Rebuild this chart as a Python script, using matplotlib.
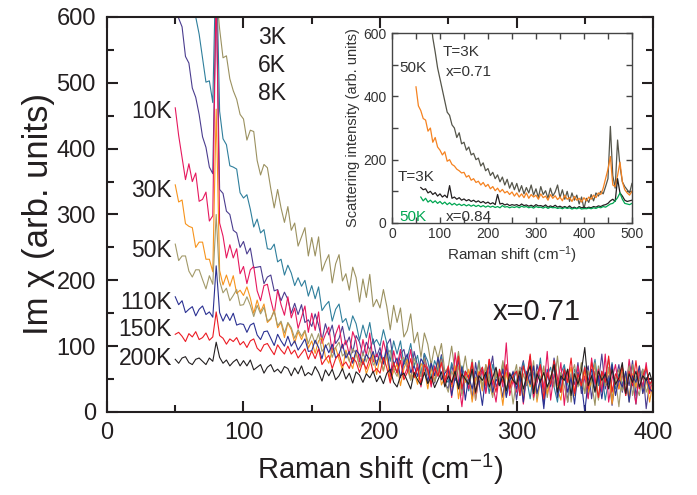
import numpy as np
import matplotlib
matplotlib.use("Agg")
import matplotlib.pyplot as plt
from matplotlib.ticker import MultipleLocator

plt.rcParams['font.family'] = ['Liberation Sans', 'DejaVu Sans']
plt.rcParams['mathtext.fontset'] = 'custom'
plt.rcParams['mathtext.rm'] = 'Liberation Sans'
plt.rcParams['mathtext.it'] = 'Liberation Sans:italic'

# main panel: Raman shift starts at 50 cm-1, one value every 2.5 cm-1
main_start = 50
main_step = 2.5

labels = ["3K", "6K", "8K", "10K", "30K", "50K", "110K", "150K", "200K"]
colors = ["#4b3d8f", "#2f7f9c", "#9b9160", "#e6185e", "#f7941d",
          "#a39a6a", "#2b3192", "#ec1c24", "#231f20"]

# one row = 50 cm-1
im_3K = [660, 598, 585, 540, 530, 492, 478, 452, 418, 402, 372, 362, 640, 338, 332, 305, 300, 276, 272, 250,
         259, 240, 249, 219, 220, 221, 195, 205, 208, 184, 186, 169, 182, 171, 150, 165, 148, 163, 136, 140,
         130, 149, 132, 109, 134, 117, 132, 104, 112, 130, 102, 114, 90, 116, 106, 86, 106, 94, 111, 84,
         98, 73, 102, 111, 73, 60, 88, 95, 70, 49, 92, 70, 54, 89, 58, 76, 44, 66, 87, 44,
         35, 72, 48, 80, 28, 62, 55, 20, 75, 42, 68, 30, 58, 85, 38, 50, 22, 70, 45, 62,
         18, 55, 78, 40, 60, 25, 72, 48, 12, 65, 38, 82, 50, 30, 68, 15, 58, 42, 75, 28,
         52, 70, 20, 62, 45, 88, 35, 55, 10, 48, 72, 30, 60, 40, 78, 25, 50, 65, 5, 45,
         38]
im_6K = [803, 756, 738, 709, 654, 613, 600, 574, 537, 501, 503, 470, 700, 457, 415, 406, 374, 372, 369, 333,
         325, 330, 308, 281, 293, 272, 277, 248, 247, 255, 228, 232, 208, 223, 211, 192, 204, 191, 200, 176,
         192, 172, 190, 154, 162, 168, 138, 156, 164, 136, 142, 124, 146, 134, 109, 132, 113, 136, 103, 110,
         100, 125, 104, 77, 108, 88, 108, 72, 82, 104, 70, 86, 56, 89, 77, 52, 78, 64, 84, 50,
         45, 75, 58, 40, 70, 52, 32, 66, 48, 78, 38, 60, 28, 72, 55, 42, 68, 25, 58, 48,
         62, 35, 75, 50, 20, 60, 45, 82, 30, 55, 68, 38, 15, 58, 72, 42, 28, 65, 50, 35,
         70, 22, 55, 80, 40, 62, 18, 48, 75, 35, 58, 45, 28, 72, 52, 12, 60, 38, 66, 42,
         50]
im_8K = [1000, 970, 950, 915, 880, 840, 800, 760, 720, 690, 650, 630, 640, 582, 538, 541, 506, 488, 475, 452,
         445, 413, 428, 426, 382, 360, 376, 371, 339, 310, 338, 310, 288, 312, 276, 287, 252, 266, 280, 237,
         265, 237, 266, 214, 228, 239, 196, 225, 239, 199, 210, 185, 220, 204, 167, 202, 174, 209, 160, 171,
         158, 186, 160, 125, 162, 136, 158, 114, 124, 149, 105, 121, 83, 120, 103, 71, 100, 81, 104, 61,
         68, 100, 60, 92, 55, 85, 48, 80, 42, 75, 35, 70, 55, 28, 66, 45, 78, 30, 60, 50,
         72, 25, 58, 40, 80, 18, 62, 48, 70, 22, 55, 38, 85, 30, 50, 65, 15, 58, 42, 75,
         28, 62, 45, 10, 70, 38, 55, 80, 20, 48, 65, 32, 58, 15, 72, 40, 25, 62, 48, 30,
         55]
im_10K = [462, 420, 387, 353, 377, 350, 363, 320, 323, 334, 290, 298, 650, 287, 267, 234, 254, 234, 248, 210,
          221, 195, 216, 221, 184, 169, 192, 194, 170, 149, 185, 163, 147, 175, 143, 158, 127, 144, 161, 121,
          150, 124, 152, 104, 118, 129, 90, 118, 132, 97, 109, 87, 122, 108, 76, 110, 86, 120, 76, 88,
          77, 108, 85, 53, 93, 70, 95, 54, 67, 95, 54, 73, 38, 79, 66, 38, 70, 54, 80, 40,
          65, 22, 90, 48, 8, 58, 35, 75, 18, 52, 62, 28, 80, 42, 15, 60, 38, 105, 25, 48,
          30, 68, 12, 55, 85, 22, 45, 70, 35, 92, 18, 58, 40, 75, 10, 62, 48, 28, 70, 38,
          55, 20, 82, 42, 65, 30, 88, 15, 50, 72, 35, 58, 25, 80, 45, 12, 62, 38, 75, 28,
          55]
im_30K = [345, 319, 322, 286, 282, 280, 250, 258, 258, 232, 232, 213, 460, 215, 193, 208, 191, 207, 180, 185,
          177, 190, 173, 150, 170, 152, 164, 136, 141, 155, 128, 136, 113, 135, 125, 105, 122, 110, 123, 97,
          108, 89, 108, 113, 84, 74, 94, 98, 80, 64, 94, 78, 66, 91, 68, 81, 58, 73, 88, 57,
          83, 62, 88, 47, 62, 73, 40, 66, 80, 49, 60, 42, 74, 64, 35, 67, 46, 79, 41, 53,
          60, 38, 70, 20, 55, 45, 65, 15, 50, 62, 32, 72, 40, 25, 58, 48, 10, 60, 35, 52,
          42, 65, 22, 55, 38, 70, 15, 48, 60, 28, 52, 75, 35, 18, 58, 45, 68, 25, 50, 40,
          62, 30, 48, 72, 20, 55, 40, 65, 12, 50, 35, 68, 45, 22, 58, 38, 70, 28, 52, 15,
          45]
im_50K = [255, 230, 237, 237, 214, 205, 216, 216, 201, 187, 207, 194, 300, 199, 181, 188, 169, 177, 186, 162,
          163, 175, 162, 145, 162, 149, 159, 138, 142, 153, 131, 138, 120, 136, 128, 112, 125, 115, 124, 104,
          119, 104, 119, 92, 99, 105, 83, 98, 106, 85, 91, 77, 96, 89, 70, 90, 76, 96, 71, 78,
          81, 63, 86, 94, 64, 54, 78, 83, 65, 48, 82, 66, 54, 82, 56, 71, 46, 62, 79, 45,
          30, 62, 48, 70, 25, 55, 42, 68, 18, 58, 38, 72, 50, 22, 60, 45, 75, 32, 55, 12,
          48, 68, 30, 58, 42, 78, 20, 52, 65, 35, 48, 70, 25, 60, 40, 15, 55, 72, 38, 50,
          28, 62, 45, 75, 18, 55, 40, 68, 32, 50, 8, 60, 42, 70, 25, 55, 48, 65, 30, 45,
          40]
im_110K = [175, 163, 169, 151, 156, 160, 146, 156, 161, 148, 152, 144, 222, 151, 138, 149, 139, 150, 132, 134,
           133, 121, 132, 135, 117, 110, 122, 123, 112, 101, 118, 108, 100, 115, 100, 108, 94, 102, 111, 92,
           93, 109, 98, 81, 102, 90, 103, 82, 88, 103, 82, 92, 74, 94, 87, 72, 88, 79, 92, 71,
           91, 73, 96, 60, 72, 82, 52, 75, 88, 60, 70, 54, 81, 72, 46, 74, 55, 83, 49, 59,
           65, 25, 52, 40, 68, 18, 55, 35, 62, 45, 10, 58, 72, 30, 50, 40, 65, 22, 48, 60,
           35, 55, 15, 62, 42, 70, 28, 50, 5, 58, 40, 75, 22, 48, 62, 30, 52, 12, 60, 45,
           0, 48, 65, 32, 55, 20, 60, 42, 72, 25, 50, 38, 62, 15, 55, 45, 70, 28, 52, 35,
           30]
im_150K = [118, 121, 115, 107, 119, 114, 122, 110, 113, 120, 109, 114, 152, 116, 112, 103, 111, 107, 113, 102,
           107, 98, 108, 111, 97, 92, 102, 104, 95, 87, 102, 94, 88, 100, 88, 94, 82, 89, 96, 80,
           93, 81, 96, 72, 80, 86, 66, 81, 88, 70, 76, 66, 83, 76, 60, 77, 65, 82, 60, 66,
           59, 83, 67, 44, 75, 59, 78, 49, 60, 81, 52, 67, 42, 72, 63, 43, 67, 55, 75, 45,
           70, 42, 58, 85, 35, 62, 50, 75, 28, 58, 68, 40, 80, 52, 30, 65, 45, 72, 35, 55,
           62, 25, 70, 48, 88, 35, 55, 72, 20, 60, 42, 78, 50, 30, 65, 45, 82, 28, 58, 40,
           68, 35, 75, 52, 22, 62, 45, 85, 30, 58, 48, 70, 25, 62, 40, 78, 35, 55, 68, 42,
           50]
im_200K = [80, 74, 82, 84, 75, 72, 80, 82, 77, 72, 82, 77, 106, 83, 74, 79, 70, 76, 80, 70,
           78, 70, 79, 64, 68, 72, 59, 68, 72, 61, 65, 59, 69, 66, 55, 67, 58, 70, 55, 60,
           56, 69, 60, 47, 64, 55, 65, 49, 55, 66, 50, 59, 44, 61, 56, 45, 58, 52, 62, 46,
           55, 43, 59, 65, 45, 38, 55, 59, 47, 35, 60, 49, 41, 60, 43, 54, 37, 49, 61, 38,
           55, 45, 62, 35, 58, 50, 42, 65, 30, 55, 48, 60, 38, 52, 68, 40, 55, 32, 58, 48,
           42, 62, 35, 55, 70, 28, 58, 45, 60, 38, 52, 72, 30, 55, 48, 65, 25, 58, 42, 62,
           98, 40, 55, 30, 62, 48, 58, 35, 65, 42, 52, 75, 28, 58, 45, 62, 38, 55, 48, 60,
           42]
main_series = [im_3K, im_6K, im_8K, im_10K, im_30K, im_50K, im_110K, im_150K, im_200K]

# inset: x=0.71 (3K, 50K) and x=0.84 (3K, 50K), one value every 5 cm-1
ins_step = 5
ins_start = {"071_3K": 80, "071_50K": 50, "084_3K": 60, "084_50K": 60}
ins_071_3K = [660, 585, 540, 490, 455, 420, 385, 350, 340, 310,
              300, 270, 285, 250, 255, 230, 240, 215, 220, 200,
              205, 180, 190, 165, 172, 150, 160, 140, 152, 130,
              145, 120, 138, 110, 128, 105, 125, 98, 118, 92,
              112, 95, 120, 88, 108, 80, 115, 90, 102, 78,
              110, 85, 98, 120, 80, 105, 75, 100, 68, 95,
              72, 88, 60, 82, 45, 78, 65, 90, 70, 95,
              85, 100, 92, 115, 140, 305, 150, 110, 262, 180,
              130, 115, 105, 95, 125]
ins_071_50K = [430, 370, 355, 330, 325, 290, 300, 255, 270, 240,
               230, 215, 225, 195, 200, 185, 180, 170, 165, 158,
               160, 145, 150, 135, 140, 128, 132, 120, 128, 115,
               122, 108, 115, 102, 110, 98, 106, 95, 100, 90,
               98, 85, 95, 82, 92, 80, 95, 78, 90, 82,
               88, 75, 92, 80, 85, 72, 90, 78, 86, 74,
               82, 70, 88, 75, 80, 68, 84, 72, 78, 66,
               80, 70, 82, 75, 88, 80, 95, 90, 110, 140,
               170, 210, 120, 115, 150, 192, 130, 105, 95, 88,
               100]
ins_084_3K = [112, 105, 108, 95, 100, 90, 96, 85, 92, 82,
              88, 80, 118, 78, 82, 75, 80, 72, 76, 70,
              74, 68, 72, 66, 70, 64, 68, 62, 66, 60,
              64, 58, 90, 60, 62, 57, 60, 55, 58, 56,
              58, 54, 60, 55, 57, 53, 56, 52, 58, 54,
              55, 52, 57, 50, 54, 51, 56, 50, 53, 49,
              52, 48, 54, 47, 50, 46, 52, 48, 50, 47,
              50, 48, 52, 50, 54, 52, 56, 58, 62, 70,
              75, 68, 140, 95, 85, 72, 68, 70, 72]
ins_084_50K = [82, 70, 78, 66, 72, 64, 70, 62, 68, 60,
               66, 58, 64, 57, 62, 56, 60, 55, 59, 54,
               58, 53, 57, 52, 56, 51, 55, 50, 54, 50,
               53, 49, 52, 48, 55, 50, 52, 48, 51, 49,
               52, 48, 53, 50, 52, 48, 51, 47, 52, 49,
               50, 47, 51, 46, 50, 48, 49, 46, 48, 45,
               49, 46, 48, 44, 47, 45, 48, 44, 46, 45,
               47, 45, 48, 46, 50, 48, 52, 50, 55, 60,
               62, 70, 80, 95, 75, 62, 60, 58, 62]

txt = "#231f20"
grey = "#333333"

fig = plt.figure(figsize=(6.97, 4.95), dpi=100)
ax = fig.add_axes([0.1535, 0.1677, 0.7834, 0.798])

for vals, c in zip(main_series, colors):
    x = main_start + main_step * np.arange(len(vals))
    ax.plot(x, vals, color=c, lw=0.8)

ax.set_xlim(0, 400)
ax.set_ylim(0, 600)
ax.xaxis.set_major_locator(MultipleLocator(100))
ax.xaxis.set_minor_locator(MultipleLocator(50))
ax.yaxis.set_major_locator(MultipleLocator(100))
ax.yaxis.set_minor_locator(MultipleLocator(50))
# inward ticks on all four sides
ax.tick_params(which='both', direction='in', length=8, width=1.5, color=txt,
               top=True, right=True)
ax.tick_params(which='minor', length=5)
ax.tick_params(axis='x', which='major', pad=7, labelsize=17, labelcolor=txt)
ax.tick_params(axis='y', which='major', pad=8, labelsize=17, labelcolor=txt)
for s in ax.spines.values():
    s.set_linewidth(1.5)
    s.set_color(txt)
ax.set_xlabel("Raman shift (cm$^{-1}$)", fontsize=21, color=txt, labelpad=6)
ax.set_ylabel("Im χ (arb. units)", fontsize=25, color=txt, labelpad=1)

# temperature labels
left_pos = [("10K", 456), ("30K", 337), ("50K", 246), ("110K", 167), ("150K", 125), ("200K", 82)]
for lab, y in left_pos:
    ax.text(47.5, y, lab, ha='right', va='center', fontsize=16.5, color=txt)
for lab, y in [("3K", 569), ("6K", 526), ("8K", 484)]:
    ax.text(121, y, lab, ha='center', va='center', fontsize=16.5, color=txt)
ax.text(315, 152, "x=0.71", ha='center', va='center', fontsize=21, color=txt)

# inset
axi = fig.add_axes([0.5624, 0.5495, 0.3443, 0.3838])
ins_curves = [(ins_071_3K, ins_start["071_3K"], "#55554a"),
              (ins_071_50K, ins_start["071_50K"], "#f58220"),
              (ins_084_3K, ins_start["084_3K"], "#231f20"),
              (ins_084_50K, ins_start["084_50K"], "#00a651")]
for vals, x0, c in ins_curves:
    x = x0 + ins_step * np.arange(len(vals))
    axi.plot(x, vals, color=c, lw=0.9)

axi.set_xlim(0, 500)
axi.set_ylim(0, 600)
axi.xaxis.set_major_locator(MultipleLocator(100))
axi.xaxis.set_minor_locator(MultipleLocator(50))
axi.yaxis.set_major_locator(MultipleLocator(200))
axi.yaxis.set_minor_locator(MultipleLocator(100))
axi.tick_params(which='both', direction='in', length=4, width=1.0, color="#444444",
                top=True, right=True)
axi.tick_params(axis='x', which='major', pad=3, labelsize=10, labelcolor=grey)
axi.tick_params(axis='y', which='major', pad=4, labelsize=10, labelcolor=grey)
for s in axi.spines.values():
    s.set_linewidth(1.0)
    s.set_color("#444444")
axi.set_xlabel("Raman shift (cm$^{-1}$)", fontsize=11, color=grey, labelpad=2)
axi.set_ylabel("Scattering intensity (arb. units)", fontsize=10.5, color=grey, labelpad=2)

axi.text(144, 540, "T=3K", ha='center', va='center', fontsize=11, color=grey)
axi.text(160, 477, "x=0.71", ha='center', va='center', fontsize=11, color=grey)
axi.text(44, 489, "50K", ha='center', va='center', fontsize=11, color=grey)
axi.text(50, 145, "T=3K", ha='center', va='center', fontsize=11, color=grey)
axi.text(44, 18, "50K", ha='center', va='center', fontsize=11, color="#00a651")
axi.text(160, 18, "x=0.84", ha='center', va='center', fontsize=11, color=grey)

fig.savefig("out.png", dpi=100)
